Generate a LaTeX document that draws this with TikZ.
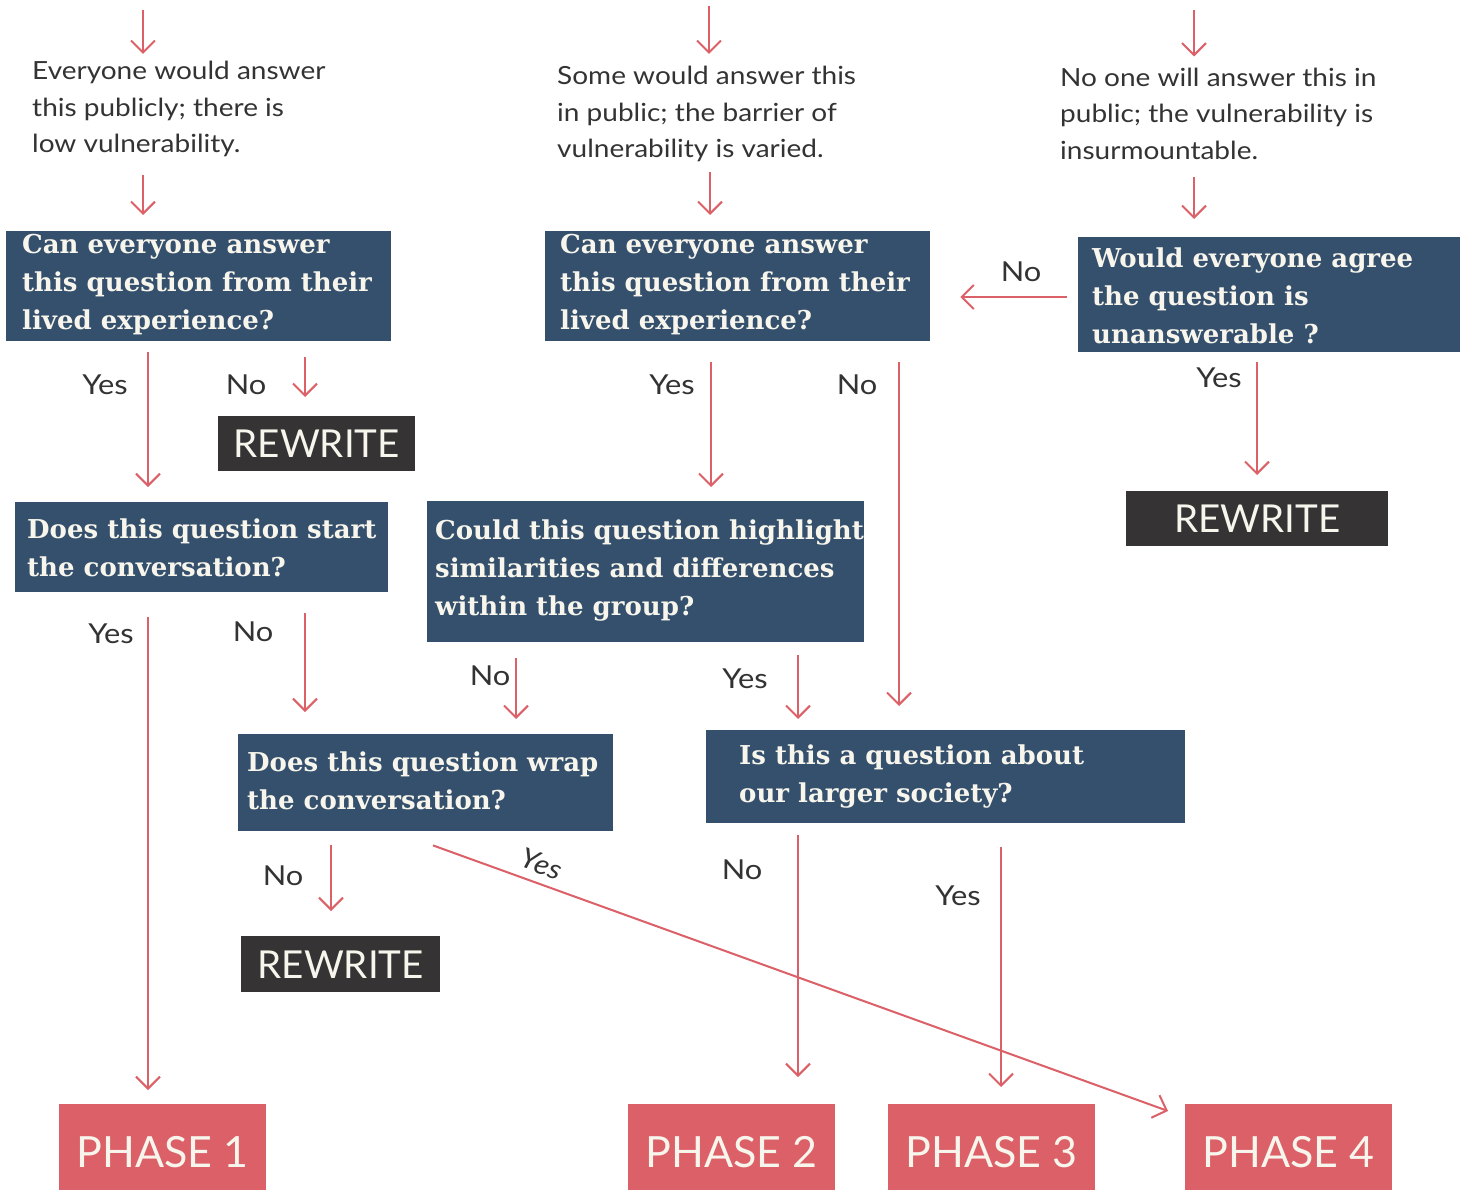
\documentclass[tikz,border=0pt]{standalone}
\usepackage{fontspec}
\setmainfont{Lato}[FakeStretch=1.12]
\newfontfamily\latoplain{Lato}
\newfontfamily\slab{DejaVu Serif}
\usetikzlibrary{arrows.meta,calc}
\definecolor{navy}{HTML}{34506D}
\definecolor{coral}{HTML}{DB6067}
\definecolor{darkbox}{HTML}{353333}
\definecolor{ink}{HTML}{333333}
\definecolor{cream}{HTML}{F7F5EC}
\tikzset{
  x=1pt, y=-1pt,
  arr/.style={draw=coral, line width=2pt, -{Straight Barb[length=12pt,width=24pt,line width=2pt]}},
  qbox/.style={fill=navy, anchor=north west, inner sep=0pt},
  qtext/.style={anchor=west, inner sep=0pt, align=left, text=cream, font=\slab\bfseries\fontsize{26}{38}\selectfont},
  desc/.style={anchor=west, inner sep=0pt, align=left, text=ink, font=\fontsize{25}{36.5}\selectfont},
  lbl/.style={inner sep=0pt, text=ink, font=\fontsize{27.5}{30}\selectfont},
  rbox/.style={fill=darkbox, anchor=north west, inner sep=0pt, text=cream, font=\latoplain\fontsize{38.5}{40}\selectfont},
  pbox/.style={fill=coral, anchor=north west, inner sep=0pt, text=cream, font=\latoplain\fontsize{43}{46}\selectfont},
}
\begin{document}
\begin{tikzpicture}
\useasboundingbox[fill=white] (0,0) rectangle (1463,1190);
\begin{scope}
\clip (0,0) rectangle (1463,1190);
% top descriptions
\node[desc] (t1) at (32,109) {Everyone would answer\\this publicly; there is\\low vulnerability.};
\node[desc] (t2) at (557,114) {Some would answer this\\in public; the barrier of\\vulnerability is varied.};
\node[desc] (t3) at (1060,113.5) {No one will answer this in\\public; the vulnerability is\\insurmountable.};
\coordinate (s1) at (143,10);
\coordinate (s2) at (709,6);
\coordinate (s3) at (1194,10);
% question boxes
\node[qbox, minimum width=385, minimum height=110] (q1) at (6,231) {};
\node[qbox, minimum width=385, minimum height=110] (q2) at (545,231) {};
\node[qbox, minimum width=382, minimum height=115] (q3) at (1078,237) {};
\node[qbox, minimum width=373, minimum height=90] (q4) at (15,502) {};
\node[qbox, minimum width=437, minimum height=141] (q5) at (427,501) {};
\node[qbox, minimum width=375, minimum height=97] (q6) at (238,734) {};
\node[qbox, minimum width=479, minimum height=93] (q7) at (706,730) {};
\node[qtext] (q1t) at (22,285) {Can everyone answer\\this question from their\\lived experience?};
\node[qtext] (q2t) at (560,285) {Can everyone answer\\this question from their\\lived experience?};
\node[qtext] (q3t) at (1092,296) {Would everyone agree\\the question is\\unanswerable ?};
\node[qtext] (q4t) at (27,548) {Does this question start\\the conversation?};
\node[qtext] (q5t) at (435,570.5) {Could this question highlight\\similarities and differences\\within the group?};
\node[qtext] (q6t) at (247,781) {Does this question wrap\\the conversation?};
\node[qtext] (q7t) at (739,777) {Is this a question about\\our larger society?};
% rewrite boxes
\node[rbox, minimum width=197, minimum height=55] (r1) at (218,416) {REWRITE};
\node[rbox, minimum width=262, minimum height=55] (r2) at (1126,491) {REWRITE};
\node[rbox, minimum width=199, minimum height=56] (r3) at (241,936) {REWRITE};
% phase boxes
\node[pbox, minimum width=207, minimum height=96] (p1) at (59,1104) {PHASE 1};
\node[pbox, minimum width=207, minimum height=96] (p2) at (628,1104) {PHASE 2};
\node[pbox, minimum width=207, minimum height=96] (p3) at (888,1104) {PHASE 3};
\node[pbox, minimum width=207, minimum height=96] (p4) at (1185,1104) {PHASE 4};
% arrows
\draw[arr] (s1) -- ($(t1.north west)+(111,-7)$);
\draw[arr] ($(t1.south west)+(111,18)$) -- ($(q1.north west)+(137,-16)$);
\draw[arr] (s2) -- ($(t2.north west)+(152,-12)$);
\draw[arr] ($(t2.south west)+(153,10)$) -- ($(q2.north west)+(165,-16)$);
\draw[arr] (s3) -- ($(t3.north west)+(134,-11)$);
\draw[arr] ($(t3.south west)+(134,17)$) -- ($(q3.north west)+(116,-18)$);
\draw[arr] ($(q1.south west)+(142,11)$) -- ($(q4.north west)+(133,-15)$);
\draw[arr] ($(q1.south west)+(299,16)$) -- ($(r1.north west)+(87,-19)$);
\draw[arr] ($(q2.south west)+(166,21)$) -- ($(q5.north west)+(284,-14)$);
\draw[arr] ($(q2.south west)+(354,21)$) -- ($(q7.north west)+(193,-24)$);
\draw[arr] ($(q3.north west)+(-11,60)$) -- ($(q2.north east)+(30,66)$);
\draw[arr] ($(q3.south west)+(179,10)$) -- ($(r2.north west)+(131,-16)$);
\draw[arr] ($(q4.south west)+(133,25)$) -- ($(p1.north west)+(89,-14)$);
\draw[arr] ($(q4.south west)+(290,21)$) -- ($(q6.north west)+(67,-22)$);
\draw[arr] ($(q5.south west)+(89,16)$) -- ($(q6.north west)+(278,-15)$);
\draw[arr] ($(q5.south west)+(371,13)$) -- ($(q7.north west)+(92,-11)$);
\draw[arr] ($(q6.south west)+(93,14)$) -- ($(r3.north west)+(90,-25)$);
\draw[arr] ($(q6.south west)+(195,14)$) -- ($(p4.north west)+(-17,7)$);
\draw[arr] ($(q7.south west)+(92,12)$) -- ($(p2.north west)+(170,-27)$);
\draw[arr] ($(q7.south west)+(295,24)$) -- ($(p3.north west)+(113,-17)$);
% labels
\node[lbl] (l1) at (105,385) {Yes};
\node[lbl] (l2) at (246,385) {No};
\node[lbl] (l3) at (672,385) {Yes};
\node[lbl] (l4) at (857,385) {No};
\node[lbl] (l5) at (1021,272) {No};
\node[lbl] (l6) at (1219,378) {Yes};
\node[lbl] (l7) at (111,634) {Yes};
\node[lbl] (l8) at (253,632) {No};
\node[lbl] (l9) at (490,676) {No};
\node[lbl] (l10) at (745,679) {Yes};
\node[lbl] (l11) at (283,876) {No};
\node[lbl, rotate=-20, font=\itshape\fontsize{27.5}{30}\selectfont] (l12) at (542,864) {Yes};
\node[lbl] (l13) at (742,870) {No};
\node[lbl] (l14) at (958,896) {Yes};
\end{scope}
\end{tikzpicture}
\end{document}
